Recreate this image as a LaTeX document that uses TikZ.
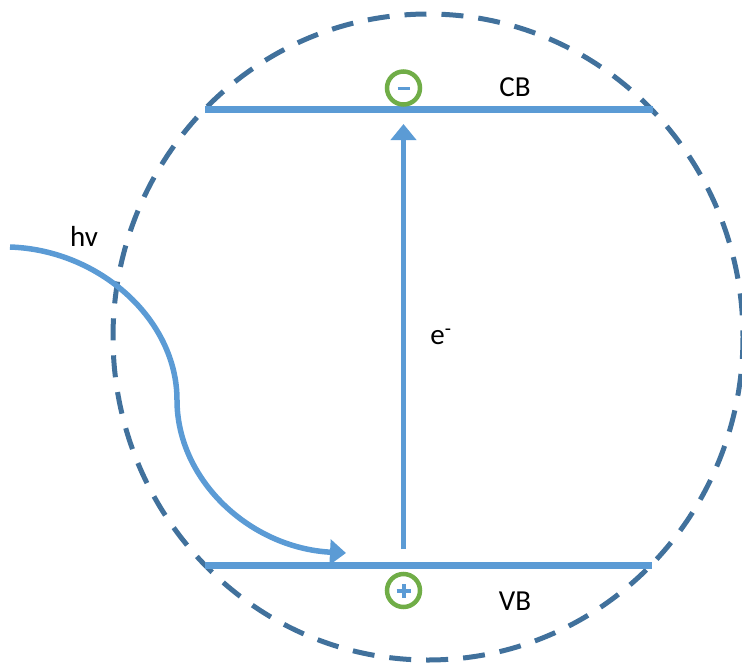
\documentclass[tikz,border=0pt]{standalone}
\usepackage{fontspec}
\setmainfont{Carlito}
\usetikzlibrary{arrows.meta}
\definecolor{lineblue}{RGB}{91,155,213}
\definecolor{dashblue}{RGB}{65,113,156}
\definecolor{okgreen}{RGB}{112,173,71}
\tikzset{
  band/.style={draw=lineblue, line width=7pt},
  flow/.style={draw=lineblue, line width=5.5pt, -{Triangle[length=16pt,width=25pt]}},
  carrier/.style={circle, draw=okgreen, line width=4.5pt, minimum size=33pt, inner sep=0pt},
  lbl/.style={font=\fontsize{29}{34}\selectfont, text=black, inner sep=0pt}
}
\begin{document}
\begin{tikzpicture}[x=1pt,y=-1pt]
\useasboundingbox (0,0) rectangle (742,662);
\draw[dashblue, line width=5pt, dash pattern=on 22pt off 15pt] (428,337) ellipse [x radius=315, y radius=323];
% bands
\coordinate (cbL) at (205,109);
\coordinate (cbR) at (653,109);
\coordinate (vbL) at (205,565);
\coordinate (vbR) at (652,565);
\draw[band] (cbL) -- (cbR);
\draw[band] (vbL) -- (vbR);
% vertical excitation arrow
\coordinate (eStart) at (403.5,549);
\coordinate (eEnd) at (403.5,124);
\draw[flow] (eStart) -- (eEnd);
% photon curve
\coordinate (hvStart) at (10,247);
\coordinate (hvMid) at (177,400);
\coordinate (hvEnd) at (346,553);
\draw[flow] (hvStart) .. controls (100,250) and (177,320) .. (hvMid) .. controls (177,480) and (250,548) .. (hvEnd);
% carriers
\node[carrier] (minus) at (403.5,88) {};
\draw[lineblue, line width=3pt] ([xshift=-6pt]minus.center) -- ([xshift=6pt]minus.center);
\node[carrier] (plus) at (403.5,590.5) {};
\draw[lineblue, line width=4pt] ([xshift=-7pt]plus.center) -- ([xshift=7pt]plus.center);
\draw[lineblue, line width=4pt] ([yshift=-7pt]plus.center) -- ([yshift=7pt]plus.center);
% labels
\node[lbl] (cb) at (515,87) {CB};
\node[lbl] (vb) at (515,601) {VB};
\node[lbl] (hv) at (84,236) {hv};
\node[lbl] (el) at (441,337) {e\textsuperscript{-}};
\end{tikzpicture}
\end{document}
